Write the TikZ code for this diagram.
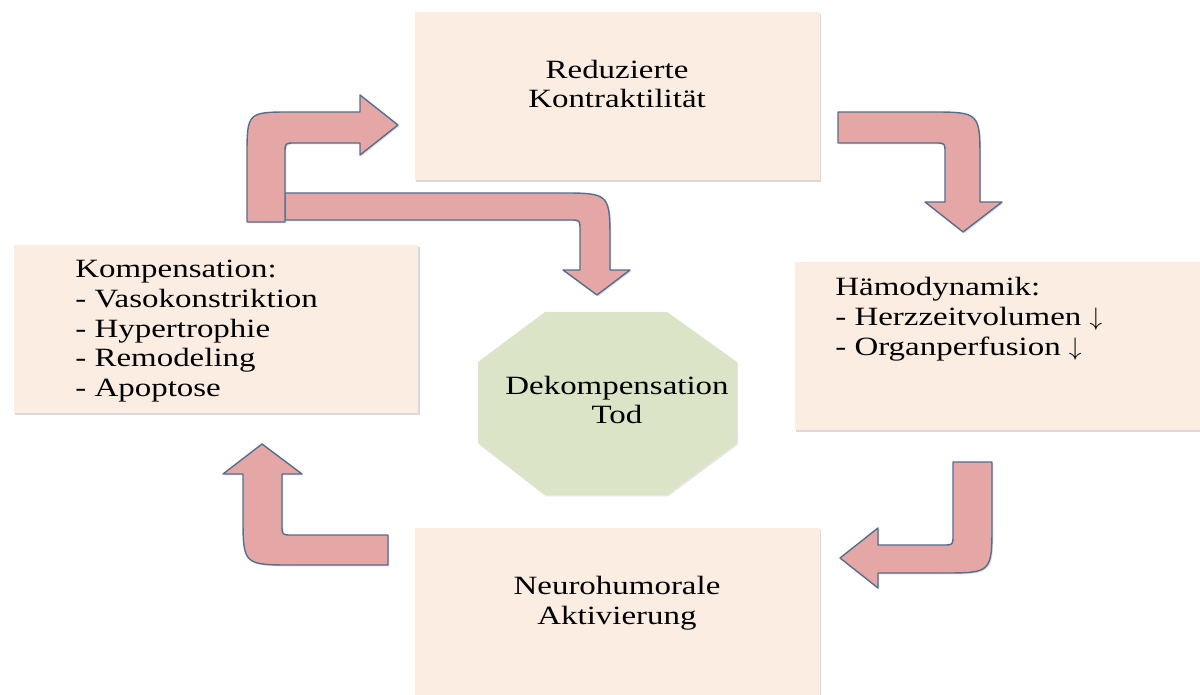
\documentclass[tikz,border=0pt]{standalone}
\usepackage{fontspec}
\setmainfont{Liberation Serif}[FakeStretch=1.25]
\usetikzlibrary{shadows}

\definecolor{boxfill}{RGB}{251,237,226}
\definecolor{octfill}{RGB}{219,228,199}
\definecolor{arrowfill}{RGB}{229,166,166}
\definecolor{arrowline}{RGB}{86,110,142}

\tikzset{
  box/.style={fill=boxfill, draw=none, minimum width=8.1cm, minimum height=3.36cm,
    drop shadow={shadow xshift=0.6pt, shadow yshift=-1.2pt, opacity=0.3}},
  boxtext/.style={inner sep=0pt, font=\fontsize{15}{17}\selectfont},
  bent/.style={fill=arrowfill, draw=arrowline, line width=0.8pt, line join=round,
    drop shadow={shadow xshift=0.8pt, shadow yshift=-0.8pt, opacity=0.25}}
}

\begin{document}
\begin{tikzpicture}[x=0.02cm, y=-0.02cm]
            \useasboundingbox (0,0) rectangle (1200,695);

            % Draw boxes
            \node[box] (kontr) at (617.5,96) {};
            \node[box] (komp) at (216,329) {};
            \node[box, minimum width=8.12cm] (haemo) at (998,346) {};
            \node[box, minimum height=3.44cm] (neuro) at (617.5,614) {};

            \node[boxtext, align=center] (kontrtxt) at (617,84) {Reduzierte\\Kontraktilität};
            \node[boxtext, align=left, anchor=north west] (komptxt) at (75,259.5)
                {Kompensation:\\- Vasokonstriktion\\- Hypertrophie\\- Remodeling\\- Apoptose};
            \node[boxtext, align=left, anchor=north west] (haemotxt) at (835,277)
                {Hämodynamik:\\- Herzzeitvolumen $\downarrow$\\- Organperfusion $\downarrow$};
            \node[boxtext, align=center] (neurotxt) at (617,603) {Neurohumorale\\Aktivierung};

            % Draw octagon
            \fill[octfill, drop shadow={shadow xshift=0.6pt, shadow yshift=-0.8pt, opacity=0.2}]
                (545,312) -- (667,312) -- (737,362) -- (737,443) -- (667,495) -- (545,495) -- (478,443) -- (478,362) -- cycle;
            \node[boxtext, align=center] (tod) at (617,400) {Dekompensation\\Tod};

            % Draw bent arrows
            \draw[bent] (285,193) -- (560,193) .. controls (610,193) .. (610,243) -- (610,270) -- (630,270)
                -- (597,295) -- (563,270) -- (580,270) -- (580,230) .. controls (580,220) .. (570,220) -- (285,220) -- cycle;
            \draw[bent] (247,222) -- (247,157) .. controls (247,112) .. (292,112) -- (360,112) -- (360,95)
                -- (398,125) -- (360,155) -- (360,143) -- (295,143) .. controls (285,143) .. (285,153) -- (285,222) -- cycle;
            \draw[bent] (838,112) -- (930,112) .. controls (980,112) .. (980,162) -- (980,202) -- (1002,202)
                -- (963,232) -- (925,202) -- (945,202) -- (945,153) .. controls (945,143) .. (935,143) -- (838,143) -- cycle;
            \draw[bent] (953,462) -- (992,462) -- (992,523) .. controls (992,573) .. (942,573) -- (878,573) -- (878,588)
                -- (840,558) -- (878,528) -- (878,545) -- (943,545) .. controls (953,545) .. (953,535) -- cycle;
            \draw[bent] (388,535) -- (388,565) -- (293,565) .. controls (243,565) .. (243,515) -- (243,474) -- (223,474)
                -- (262,444) -- (302,474) -- (282,474) -- (282,525) .. controls (282,535) .. (292,535) -- cycle;
        \end{tikzpicture}
\end{document}
